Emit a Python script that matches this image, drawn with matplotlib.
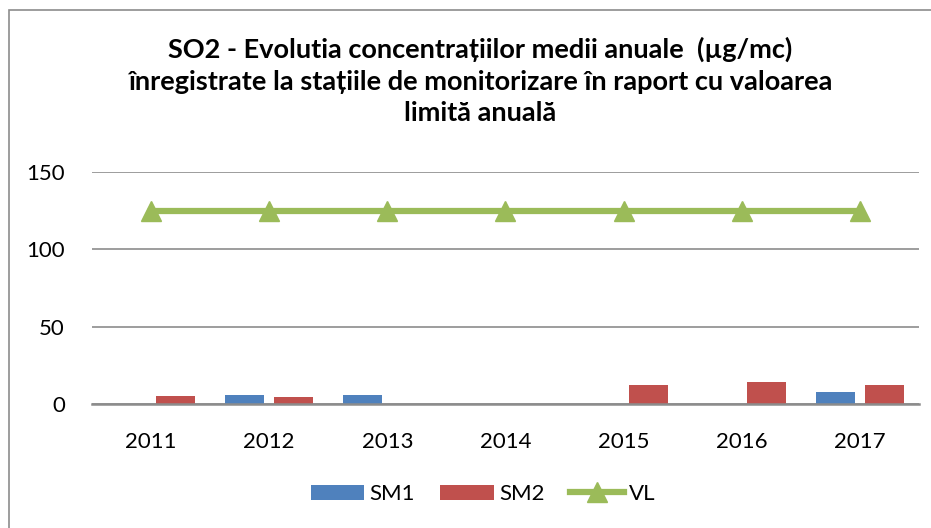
import numpy as np
import matplotlib
matplotlib.use("Agg")
import matplotlib.pyplot as plt
from matplotlib.patches import Rectangle

plt.rcParams['font.family'] = ['Lato', 'DejaVu Sans']

years = ["2011", "2012", "2013", "2014", "2015", "2016", "2017"]
sm1 = [0, 6, 6, 0, 0, 0, 8]
sm2 = [5, 4.5, 0, 0, 12, 14, 12.5]
vl = [125, 125, 125, 125, 125, 125, 125]

title = ("SO2 - Evolutia concentrațiilor medii anuale  (µg/mc)\n"
         "înregistrate la stațiile de monitorizare în raport cu valoarea\n"
         "limită anuală")

fig = plt.figure(figsize=(9.31, 5.28), dpi=100)
ax = fig.add_axes([0.0988, 0.2348, 0.8882, 0.4392])

x = np.arange(len(years))
w = 0.33
b1 = ax.bar(x - 0.207, sm1, w, color="#4F81BD", label="SM1")
b2 = ax.bar(x + 0.207, sm2, w, color="#C0504D", label="SM2")
l1, = ax.plot(x, vl, color="#9BBB59", lw=4.5, marker="^", ms=14, label="VL")

ax.set_xlim(-0.5, len(years) - 0.5)
ax.set_ylim(0, 150)
ax.set_yticks([0, 50, 100, 150])
ax.set_xticks(x)
ax.set_xticklabels(years)
ax.tick_params(axis="both", length=0, labelsize=16, labelcolor="#000000")
ax.tick_params(axis="y", pad=19.5)
ax.tick_params(axis="x", pad=20)
ax.yaxis.grid(True, color="#8C8C8C", lw=1.2)
ax.set_axisbelow(True)
for s in ["top", "right", "left"]:
    ax.spines[s].set_visible(False)
ax.spines["bottom"].set_color("#8C8C8C")
ax.spines["bottom"].set_linewidth(1.8)

fig.text(0.516, 0.93, title, ha="center", va="top", fontsize=19.5,
         fontweight="bold", linespacing=1.36)

fig.legend([b1, b2, l1], ["SM1", "SM2", "VL"], loc="center",
           bbox_to_anchor=(0.519, 0.064), ncol=3, frameon=False,
           fontsize=16, handlelength=2.4, handletextpad=0.25, columnspacing=1.15)

fig.patches.append(Rectangle((0.0097, -0.01), 1.0, 0.991, transform=fig.transFigure,
                             fill=False, edgecolor="#8C8C8C", lw=1.2))

fig.savefig("out.png", dpi=100)
